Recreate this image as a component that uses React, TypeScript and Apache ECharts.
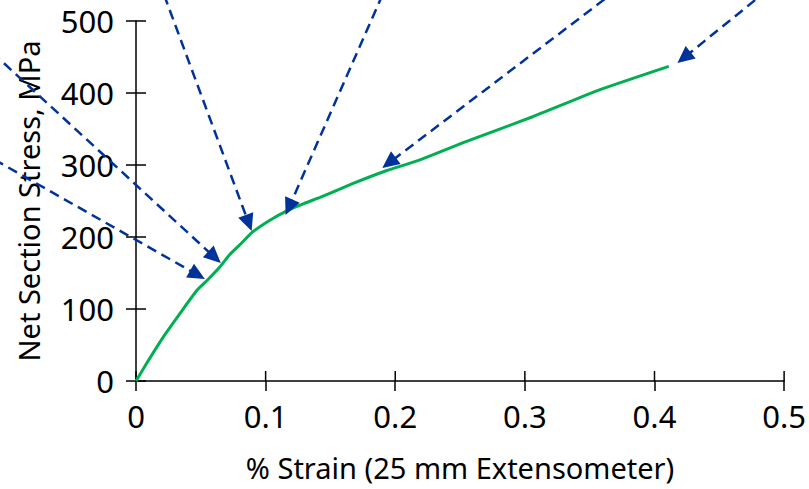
import React, { useEffect, useRef } from "react";
import * as echarts from "echarts";

// Green stress-strain curve
const strain = [0, 0.008, 0.021, 0.034, 0.047, 0.055, 0.065, 0.072, 0.08, 0.09, 0.103, 0.116, 0.129, 0.142, 0.167, 0.193, 0.219, 0.254, 0.306, 0.357, 0.411];
const stress = [0, 24, 61, 94, 126, 140, 159, 175, 189, 207, 223, 236, 246, 255, 274, 292, 307, 332, 367, 404, 437];

// Dashed arrows (start -> tip), in data coordinates
const arrowFromX = [-0.12, -0.12, 0.0174, 0.1952, 0.3811, 0.4968];
const arrowFromY = [318.5, 471.4, 557, 557, 557, 557];
const arrowToX = [0.0531, 0.0654, 0.0892, 0.1154, 0.19, 0.4177];
const arrowToY = [141.7, 163.9, 208.3, 230.6, 295.8, 441.7];

// Axis ticks
const xTicks = [0, 0.1, 0.2, 0.3, 0.4, 0.5];
const yTicks = [0, 100, 200, 300, 400, 500];

const GREEN = "#00B050";
const BLUE = "#003399";
const FONT = "Noto Sans";

export default function App() {
  const ref = useRef<HTMLDivElement>(null);
  useEffect(() => {
    document.body.style.margin = "0";
    const chart = echarts.init(ref.current!, null, { renderer: "svg" });
    const grid = { left: 136, right: 23, top: 21, bottom: 108 };
    const xMin = xTicks[0], xMax = xTicks[xTicks.length - 1];
    const yMin = yTicks[0], yMax = yTicks[yTicks.length - 1];
    const xInt = xTicks[1] - xTicks[0];
    const yInt = yTicks[1] - yTicks[0];
    const tickStyle = { color: "#000", width: 1.5 };
    const TICK = 10;
    // inner halves of the crossing tick marks
    const innerTicks = [
      ...xTicks.map((x) => [x, yMin, 0]),
      ...yTicks.map((y) => [xMin, y, 1]),
    ];
    chart.setOption({
      animation: false,
      backgroundColor: "#fff",
      grid,
      xAxis: {
        type: "value", min: xMin, max: xMax, interval: xInt,
        axisLine: { show: true, onZero: false, lineStyle: { color: "#000", width: 1.5 } },
        axisTick: { show: true, inside: false, length: TICK, lineStyle: tickStyle },
        splitLine: { show: false },
        axisLabel: { color: "#000", fontSize: 31, fontFamily: FONT, margin: 19 },
        name: "% Strain (25 mm Extensometer)",
        nameLocation: "middle", nameGap: 72,
        nameTextStyle: { color: "#000", fontSize: 29, fontFamily: FONT },
      },
      yAxis: {
        type: "value", min: yMin, max: yMax, interval: yInt,
        axisLine: { show: true, onZero: false, lineStyle: { color: "#000", width: 1.5 } },
        axisTick: { show: true, inside: false, length: TICK, lineStyle: tickStyle },
        splitLine: { show: false },
        axisLabel: { color: "#000", fontSize: 31, fontFamily: FONT, margin: 22 },
        name: "Net Section Stress, MPa",
        nameLocation: "middle", nameGap: 93, nameRotate: 90,
        nameTextStyle: { color: "#000", fontSize: 29, fontFamily: FONT },
      },
      series: [
        {
          type: "custom",
          clip: false,
          silent: true,
          z: 1,
          encode: { x: 0, y: 1 },
          data: innerTicks,
          renderItem: (params: any, api: any) => {
            const p = api.coord([api.value(0), api.value(1)]);
            const vertical = api.value(2) === 0;
            return {
              type: "line",
              shape: vertical
                ? { x1: p[0], y1: p[1], x2: p[0], y2: p[1] - TICK }
                : { x1: p[0], y1: p[1], x2: p[0] + TICK, y2: p[1] },
              style: { stroke: "#000", lineWidth: 1.5 },
            };
          },
        },
        {
          type: "line",
          data: strain.map((s, i) => [s, stress[i]]),
          smooth: 0.15,
          showSymbol: false,
          lineStyle: { color: GREEN, width: 3 },
          z: 2,
        },
        {
          type: "custom",
          clip: false,
          z: 3,
          encode: { x: [0, 2], y: [1, 3] },
          data: arrowFromX.map((x, i) => [x, arrowFromY[i], arrowToX[i], arrowToY[i]]),
          renderItem: (params: any, api: any) => {
            const p1 = api.coord([api.value(0), api.value(1)]);
            const p2 = api.coord([api.value(2), api.value(3)]);
            const dx = p2[0] - p1[0], dy = p2[1] - p1[1];
            const L = Math.hypot(dx, dy);
            const ux = dx / L, uy = dy / L;
            const hl = 17, hw = 8;
            const bx = p2[0] - ux * hl, by = p2[1] - uy * hl;
            return {
              type: "group",
              children: [
                {
                  type: "line",
                  shape: { x1: p1[0], y1: p1[1], x2: bx + ux * 2, y2: by + uy * 2 },
                  style: { stroke: BLUE, lineWidth: 2.5, lineDash: [10, 6], fill: null },
                },
                {
                  type: "polygon",
                  shape: { points: [[p2[0], p2[1]], [bx - uy * hw, by + ux * hw], [bx + uy * hw, by - ux * hw]] },
                  style: { fill: BLUE, stroke: null },
                },
              ],
            };
          },
        },
      ],
    });
    return () => chart.dispose();
  }, []);
  return <div ref={ref} style={{ width: 809, height: 489 }} />;
}
